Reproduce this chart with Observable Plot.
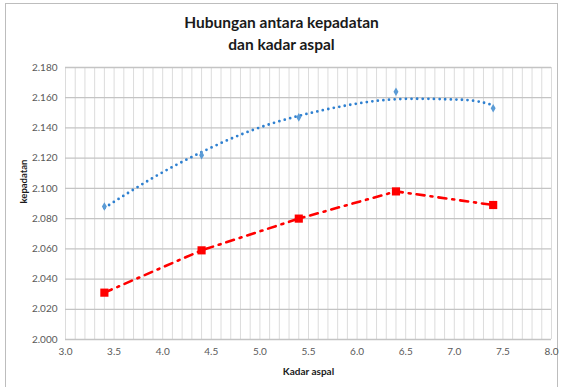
<!DOCTYPE html>
<html>
<head>
<meta charset="utf-8">
<script src="https://cdn.jsdelivr.net/npm/d3@7"></script>
<script src="https://cdn.jsdelivr.net/npm/@observablehq/plot@0.6"></script>
<style>
  html, body { margin: 0; padding: 0; background: #fff; }
  #wrap { position: relative; width: 563px; height: 387px; overflow: hidden; font-family: Lato, "Open Sans", sans-serif; }
  #frame { position: absolute; left: 5px; top: 3px; width: 553px; height: 400px; border: 1px solid #bdbdbd; box-sizing: border-box; }
  #title { position: relative; height: 57px; text-align: center; font-weight: bold; font-size: 15.5px; line-height: 22px; color: #1a1a1a; padding-top: 11px; box-sizing: border-box; }
  #chart { position: relative; }
</style>
</head>
<body>
<div id="wrap">
  <div id="frame"></div>
  <div id="title">Hubungan antara kepadatan<br>dan kadar aspal</div>
  <div id="chart"></div>
</div>
<script>
// Measured data (kadar aspal vs kepadatan)
const kadarAspal = [3.4, 4.4, 5.4, 6.4, 7.4];
const seriesBlue = [2.088, 2.122, 2.147, 2.164, 2.153];
const seriesRed  = [2.031, 2.059, 2.080, 2.098, 2.089];

// Trendline of the blue series
const trendX = [3.4, 3.9, 4.4, 4.9, 5.4, 5.9, 6.4, 6.9, 7.2, 7.4];
const trendY = [2.087, 2.107, 2.124, 2.138, 2.148, 2.155, 2.159, 2.159, 2.158, 2.155];

// Tick labels
const xTicks = [3.0, 3.5, 4.0, 4.5, 5.0, 5.5, 6.0, 6.5, 7.0, 7.5, 8.0];
const yTicks = [2.000, 2.020, 2.040, 2.060, 2.080, 2.100, 2.120, 2.140, 2.160, 2.180];
const xMinorGrid = [3.0,3.1,3.2,3.3,3.4,3.5,3.6,3.7,3.8,3.9,4.0,4.1,4.2,4.3,4.4,4.5,4.6,4.7,4.8,4.9,5.0,5.1,5.2,5.3,5.4,5.5,5.6,5.7,5.8,5.9,6.0,6.1,6.2,6.3,6.4,6.5,6.6,6.7,6.8,6.9,7.0,7.1,7.2,7.3,7.4,7.5,7.6,7.7,7.8,7.9,8.0];

const blue = kadarAspal.map((x, i) => ({x, y: seriesBlue[i]}));
const red = kadarAspal.map((x, i) => ({x, y: seriesRed[i]}));
const trend = trendX.map((x, i) => ({x, y: trendY[i]}));

const chart = Plot.plot({
  width: 563,
  height: 330,
  marginLeft: 65,
  marginRight: 12,
  marginTop: 10,
  marginBottom: 48,
  style: { fontFamily: "Lato, 'Open Sans', sans-serif", fontSize: "10px", color: "#595959", background: "transparent" },
  x: { domain: [3.0, 8.0], ticks: xTicks, tickFormat: d3.format(".1f"), tickSize: 0, tickPadding: 8, label: null },
  y: { domain: [2.000, 2.180], ticks: yTicks, tickFormat: d3.format(".3f"), tickSize: 0, tickPadding: 8, label: null },
  marks: [
    Plot.gridX(xMinorGrid, { stroke: "#dcdcdc", strokeOpacity: 1, strokeWidth: 1 }),
    Plot.gridY(yTicks, { stroke: "#c4c4c4", strokeOpacity: 1, strokeWidth: 1.3 }),
    Plot.axisX({ ticks: xTicks, tickFormat: d3.format(".1f"), tickSize: 0, tickPadding: 8, fill: "#595959", fontSize: 10 }),
    Plot.axisY({ ticks: yTicks, tickFormat: d3.format(".3f"), tickSize: 0, tickPadding: 8, fill: "#595959", fontSize: 10 }),
    Plot.text(["Kadar aspal"], { frameAnchor: "bottom", dy: 35, fontWeight: "bold", fontSize: 10, fill: "#1a1a1a" }),
    Plot.text(["kepadatan"], { frameAnchor: "left", dx: -42, rotate: -90, fontWeight: "bold", fontSize: 9.5, fill: "#1a1a1a" }),
    Plot.line(trend, { x: "x", y: "y", curve: "natural", stroke: "#2f80d0", strokeWidth: 2.8, strokeDasharray: "0 5.6", strokeLinecap: "round" }),
    Plot.dot(blue, { x: "x", y: "y", symbol: "diamond", r: 2.6, fill: "#5b9bd5", stroke: "none" }),
    Plot.line(red, { x: "x", y: "y", stroke: "#ff0000", strokeWidth: 2.6, strokeDasharray: "8 6 2 6" }),
    Plot.dot(red, { x: "x", y: "y", symbol: "square", r: 4.6, fill: "#ff0000", stroke: "none" })
  ]
});
document.getElementById("chart").appendChild(chart);
</script>
</body>
</html>
